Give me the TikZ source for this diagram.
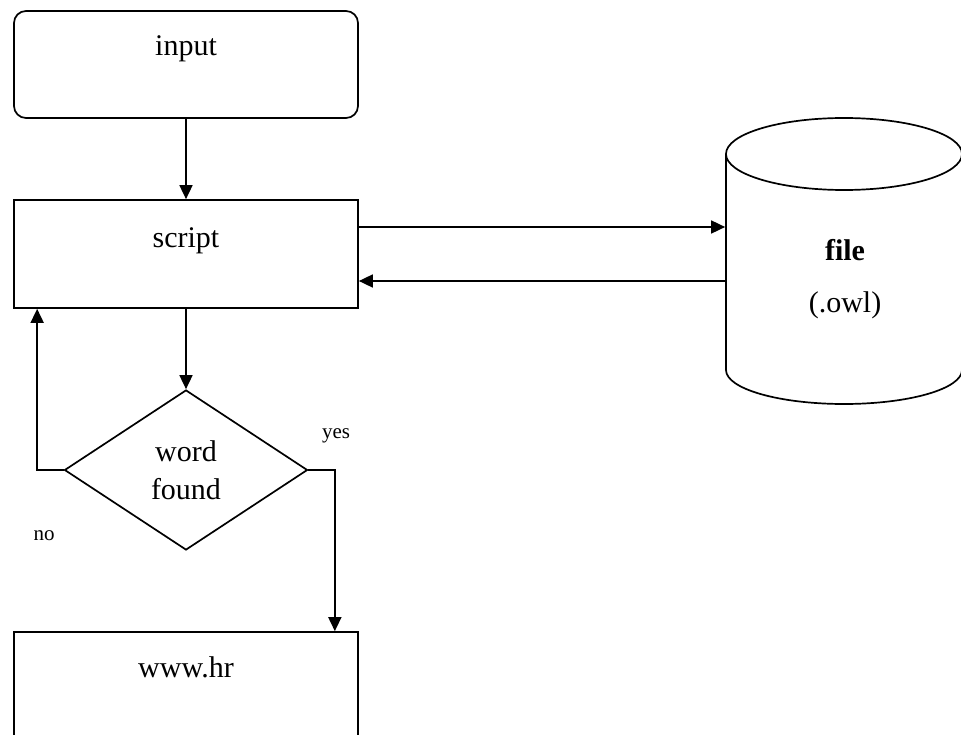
\documentclass[tikz,border=0pt]{standalone}
\usepackage{fontspec}
\setmainfont{Liberation Serif}
\usetikzlibrary{shapes.geometric,arrows.meta,calc}
\begin{document}
\begin{tikzpicture}[x=1pt,y=-1pt,
  line width=1.7pt,
  arr/.style={-{Triangle[length=14pt,width=13pt]}},
  boxshape/.style={draw, minimum width=344pt, inner sep=0pt},
  big/.style={font=\fontsize{30}{36}\selectfont},
  small/.style={font=\fontsize{21}{25}\selectfont}]
\useasboundingbox (0,0) rectangle (961,735);
\clip (0,0) rectangle (961,735);
% boxes
\node[boxshape, rounded corners=12pt, minimum height=107pt,
      label={[big, anchor=center, yshift=-39pt]north:input}] (in) at (186,64.5) {};
\node[boxshape, minimum height=108pt,
      label={[big, anchor=center, yshift=-42pt]north:script}] (sc) at (186,254) {};
\node[draw, diamond, minimum width=243pt, minimum height=160pt, inner sep=0pt,
      align=center, big] (dia) at (186,470) {word\\[2pt]found};
\node[boxshape, minimum height=108pt,
      label={[big, anchor=center, yshift=-36pt]north:www.hr}] (www) at (186,686) {};
% cylinder
\node[minimum width=236pt, minimum height=284pt, inner sep=0pt] (file) at (844,260) {};
\draw (726,154) -- (726,370) arc[start angle=180, end angle=0, x radius=118, y radius=34]
      -- (962,154);
\draw (844,154) ellipse[x radius=118, y radius=36];
\node[font=\fontsize{30}{36}\selectfont\bfseries] (ft) at (845,250) {file};
\node[big] (fo) at (845,305) {(.owl)};
% connectors
\draw[arr] (in.south) -- (sc.north);
\draw[arr] (sc.south) -- (dia.north);
\draw[arr] ($(sc.east)+(0,-27)$) -- ($(file.west)+(0,-33)$);
\draw[arr] ($(file.west)+(0,21)$) -- ($(sc.east)+(0,27)$);
\draw[arr] (dia.west) -| ($(sc.south west)+(24,0)$);
\draw[arr] (dia.east) -| ($(www.north east)+(-24,0)$);
% labels
\node[small] (yes) at (336,436) {yes};
\node[small] (no) at (44,536) {no};
\end{tikzpicture}
\end{document}
